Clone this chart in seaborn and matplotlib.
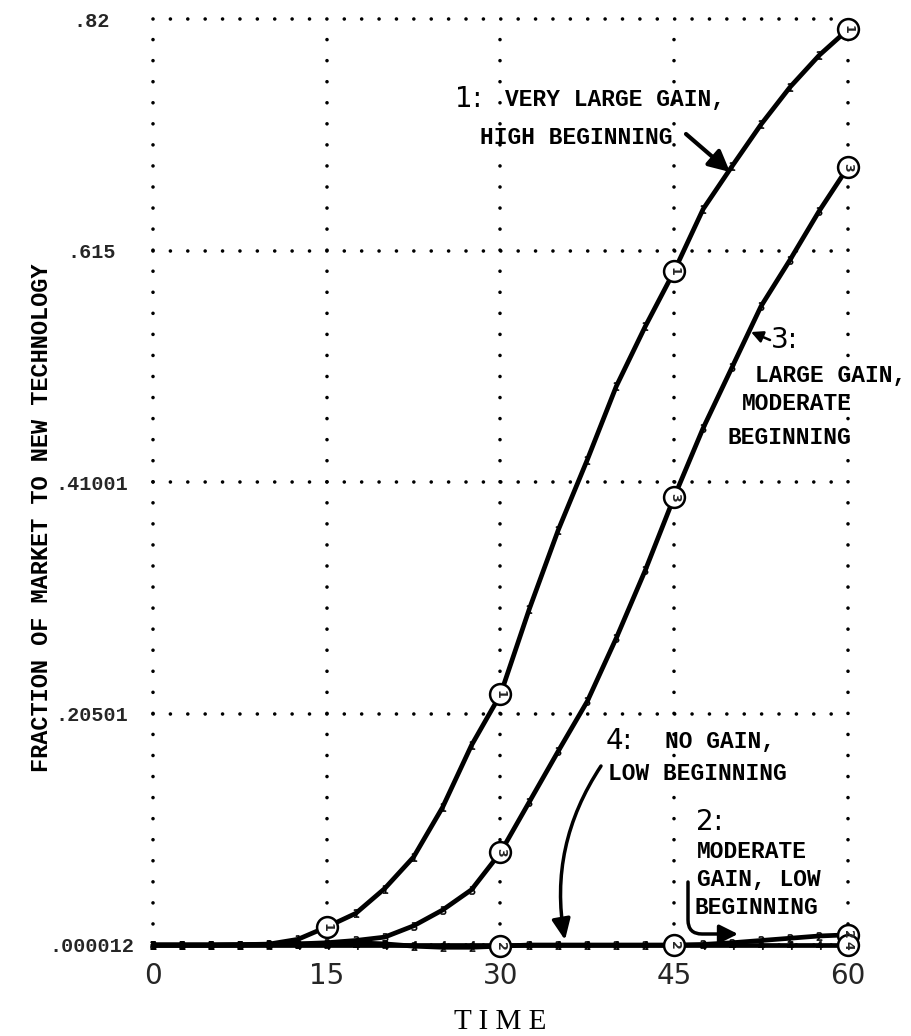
import numpy as np
import pandas as pd
import matplotlib
matplotlib.use("Agg")
import matplotlib.pyplot as plt
import seaborn as sns
from matplotlib.ticker import FixedLocator

# ---------------- data ----------------
time = [0, 2.5, 5, 7.5, 10, 12.5, 15, 17.5, 20, 22.5, 25, 27.5, 30,
        32.5, 35, 37.5, 40, 42.5, 45, 47.5, 50, 52.5, 55, 57.5, 60]
curve1 = [0.000012, 0.000012, 0.000012, 0.0003, 0.0008, 0.005, 0.016, 0.028,
          0.050, 0.078, 0.122, 0.177, 0.222, 0.298, 0.368, 0.430, 0.495,
          0.548, 0.597, 0.652, 0.690, 0.727, 0.760, 0.788, 0.811]
curve2 = [0.000012, 0.000012, 0.000012, 0.000012, 0.0003, 0.0008, 0.001, 0.002,
          0.001, -0.001, -0.002, -0.002, -0.001, 0.0, 0.0, 0.0, 0.0,
          0.0, 0.0, 0.0005, 0.002, 0.004, 0.006, 0.008, 0.009]
curve3 = [0.000012, 0.000012, 0.000012, 0.0002, 0.0005, 0.001, 0.002, 0.004,
          0.007, 0.017, 0.031, 0.049, 0.082, 0.127, 0.172, 0.216, 0.272,
          0.332, 0.397, 0.458, 0.512, 0.566, 0.607, 0.650, 0.689]
curve4 = [0.000012] * len(time)

curve_names = ["1", "2", "3", "4"]
circle_times = {"1": [15, 30, 45, 60], "2": [30, 45, 60], "3": [30, 45, 60], "4": [60]}

xticks = [0, 15, 30, 45, 60]
xtick_labels = ["0", "15", "30", "45", "60"]
yticks = [0.000012, 0.20501, 0.41001, 0.615, 0.82]
ytick_labels = [".000012", ".20501", ".41001", ".615", ".82"]

# ---------------- figure ----------------
sns.set_theme(style="white")
plt.rcParams["lines.scale_dashes"] = False
plt.rcParams["font.family"] = ["Liberation Mono", "DejaVu Sans"]

W, H = 912, 1036
L, R, T, B = 153, 848, 19.3, 945
fig = plt.figure(figsize=(W / 100, H / 100), dpi=100)
ax = fig.add_axes([L / W, 1 - B / H, (R - L) / W, (B - T) / H])


def P(px, py):
    """pixel position of the reference -> axes fraction"""
    return ((px - L) / (R - L), (B - py) / (B - T))


series = {"1": curve1, "2": curve2, "3": curve3, "4": curve4}
df = pd.DataFrame({
    "time": np.tile(time, 4),
    "fraction": np.concatenate([series[k] for k in curve_names]),
    "curve": np.repeat(curve_names, len(time)),
})

ax.set_xlim(0, 60)
ax.set_ylim(yticks[0], yticks[-1])

# dotted grid
for xv in xticks:
    ax.axvline(xv, color="black", lw=2.6, linestyle=(0, (0.01, 15.15)),
               dash_capstyle="round", clip_on=False, zorder=1)
for yv in yticks:
    ax.axhline(yv, color="black", lw=2.6, linestyle=(0, (0.01, 12.51)),
               dash_capstyle="round", clip_on=False, zorder=1)

sns.lineplot(data=df, x="time", y="fraction", hue="curve", style="curve",
             palette={k: "black" for k in curve_names},
             markers={k: f"${k}$" for k in curve_names}, dashes=False,
             markersize=6, markeredgecolor="black", markeredgewidth=0.4,
             linewidth=3.4, legend=False, sort=False, ax=ax, clip_on=False,
             zorder=3)

# circled curve numbers
for k in curve_names:
    lookup = dict(zip(time, series[k]))
    for t in circle_times[k]:
        v = lookup[t]
        ax.plot(t, v, marker="o", markersize=15, markerfacecolor="white",
                markeredgecolor="black", markeredgewidth=1.8, clip_on=False,
                zorder=5)
        ax.text(t, v, k, ha="center", va="center", fontsize=9,
                fontweight="bold", family="DejaVu Sans", rotation=-90,
                zorder=6, clip_on=False)

for s in ax.spines.values():
    s.set_visible(False)

# ticks
ax.set_xticks(xticks)
ax.set_xticklabels(xtick_labels)
ax.tick_params(axis="x", length=0, pad=12)
for lab in ax.get_xticklabels():
    lab.set_fontfamily("Liberation Sans Narrow")
    lab.set_fontsize(20)

ax.set_yticks(yticks)
ax.set_yticklabels(ytick_labels)
ax.tick_params(axis="y", which="major", length=0, pad=44)
for lab in ax.get_yticklabels():
    lab.set_ha("center")
    lab.set_fontfamily("Liberation Mono")
    lab.set_fontweight("bold")
    lab.set_fontsize(14.5)
ax.yaxis.set_minor_locator(FixedLocator([yticks[0]]))
ax.tick_params(axis="y", which="minor", left=True, length=7.5, width=1.8,
               color="black")

ax.set_xlabel("T I M E", fontsize=21, family="Liberation Serif", labelpad=14,
              color="black")
ax.set_ylabel("FRACTION OF MARKET TO NEW TECHNOLOGY", fontsize=17,
              family="Liberation Mono", fontweight="bold", color="black")
ax.yaxis.set_label_coords(-0.144, (B - 518) / (B - T))

# annotations
mono = dict(family="Liberation Mono", fontweight="bold", fontsize=16.5,
            color="black", va="center", ha="left", transform=ax.transAxes)
num = dict(family="Liberation Sans Narrow", fontsize=20, color="black",
           va="center", ha="left", transform=ax.transAxes)

ax.text(*P(455, 99), "1:", **num)
ax.text(*P(505, 100), "VERY LARGE GAIN,", **mono)
ax.text(*P(480, 137), "HIGH BEGINNING", **mono)
ax.annotate("", xy=P(730, 172), xycoords="axes fraction",
            xytext=P(686, 134), textcoords="axes fraction",
            arrowprops=dict(arrowstyle="-|>,head_length=0.9,head_width=0.45",
                            lw=3, color="black", shrinkA=0, shrinkB=0,
                            mutation_scale=14))

ax.text(*P(771, 340), "3:", **num)
ax.text(*P(755, 375), "LARGE GAIN,", **mono)
ax.text(*P(742, 404), "MODERATE", **mono)
ax.text(*P(728, 437), "BEGINNING", **mono)
ax.annotate("", xy=P(751, 332), xycoords="axes fraction",
            xytext=P(770, 340), textcoords="axes fraction",
            arrowprops=dict(arrowstyle="-|>,head_length=0.5,head_width=0.25",
                            lw=1.8, color="black", shrinkA=0, shrinkB=0,
                            mutation_scale=14))

ax.text(*P(606, 741), "4:", **num)
ax.text(*P(665, 742), "NO GAIN,", **mono)
ax.text(*P(608, 773), "LOW BEGINNING", **mono)
ax.annotate("", xy=P(565, 940), xycoords="axes fraction",
            xytext=P(601, 766), textcoords="axes fraction",
            arrowprops=dict(arrowstyle="-|>,head_length=0.9,head_width=0.4",
                            lw=2.5, color="black", shrinkA=0, shrinkB=0,
                            mutation_scale=14,
                            connectionstyle="arc3,rad=0.2"))

ax.text(*P(696, 822), "2:", **num)
ax.text(*P(697, 852), "MODERATE", **mono)
ax.text(*P(697, 880), "GAIN, LOW", **mono)
ax.text(*P(695, 908), "BEGINNING", **mono)
ax.annotate("", xy=P(738, 934), xycoords="axes fraction",
            xytext=P(688, 882), textcoords="axes fraction",
            arrowprops=dict(arrowstyle="-|>,head_length=0.8,head_width=0.4",
                            lw=2.5, color="black", shrinkA=0, shrinkB=0,
                            mutation_scale=14,
                            connectionstyle="angle,angleA=90,angleB=0,rad=14"))

fig.savefig("out.png", dpi=100, facecolor="white")
